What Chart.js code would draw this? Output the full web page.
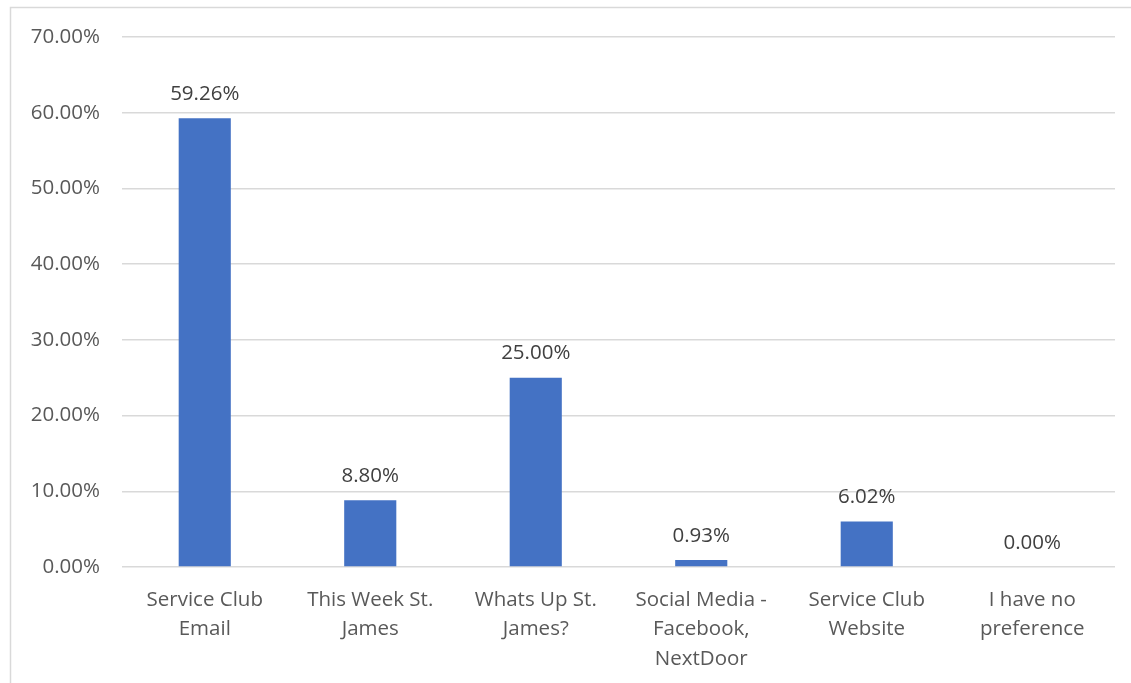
<!DOCTYPE html>
<html>
<head>
<meta charset="utf-8">
<style>
  html, body { margin: 0; padding: 0; background: #fff; }
  #wrap { width: 1131px; height: 683px; position: relative; }
</style>
<script src="https://cdn.jsdelivr.net/npm/chart.js@4/dist/chart.umd.min.js"></script>
</head>
<body>
<div id="wrap"><canvas id="c" width="1131" height="683"></canvas></div>
<script>
// Preferred channel for Service Club news (share of responses, %)
const categories = [
  ['Service Club', 'Email'],
  ['This Week St.', 'James'],
  ['Whats Up St.', 'James?'],
  ['Social Media -', 'Facebook,', 'NextDoor'],
  ['Service Club', 'Website'],
  ['I have no', 'preference']
];
const shares = [59.26, 8.80, 25.00, 0.93, 6.02, 0.00];
const yTicks = [0, 10, 20, 30, 40, 50, 60, 70];

const FONT = '"Open Sans", "Liberation Sans", sans-serif';
const FONT_SIZE = 20.5;

// Frame around the chart
const framePlugin = {
  id: 'frame',
  beforeDraw(chart) {
    const ctx = chart.ctx;
    ctx.save();
    ctx.fillStyle = '#fff';
    ctx.fillRect(0, 0, chart.width, chart.height);
    ctx.strokeStyle = '#D9D9D9';
    ctx.lineWidth = 1.5;
    ctx.strokeRect(10.5, 7.5, chart.width + 20, chart.height + 20);
    ctx.restore();
  }
};

// Percentage labels above each bar
const valueLabels = {
  id: 'valueLabels',
  afterDatasetsDraw(chart) {
    const ctx = chart.ctx;
    const meta = chart.getDatasetMeta(0);
    ctx.save();
    ctx.font = FONT_SIZE + 'px ' + FONT;
    ctx.fillStyle = '#404040';
    ctx.textAlign = 'center';
    ctx.textBaseline = 'bottom';
    meta.data.forEach((bar, i) => {
      ctx.fillText(shares[i].toFixed(2) + '%', bar.x, bar.y - 14);
    });
    ctx.restore();
  }
};

new Chart(document.getElementById('c'), {
  type: 'bar',
  data: {
    labels: categories,
    datasets: [{
      data: shares,
      backgroundColor: '#4472C4',
      borderWidth: 0,
      categoryPercentage: 1.0,
      barPercentage: 0.315
    }]
  },
  options: {
    responsive: false,
    animation: false,
    layout: { padding: { left: 10, right: 16, top: 37, bottom: 0 } },
    plugins: { legend: { display: false }, tooltip: { enabled: false } },
    scales: {
      x: {
        grid: { display: false, drawTicks: false },
        border: { display: false },
        ticks: {
          color: '#595959',
          font: { family: FONT, size: FONT_SIZE, lineHeight: 1.45 },
          padding: 18,
          maxRotation: 0,
          autoSkip: false
        },
        afterFit(scale) { scale.height = 116; }
      },
      y: {
        min: 0,
        max: 70,
        afterBuildTicks(scale) { scale.ticks = yTicks.map(v => ({ value: v })); },
        grid: { color: '#D9D9D9', lineWidth: 1.5, drawTicks: false },
        border: { display: false },
        ticks: {
          color: '#595959',
          font: { family: FONT, size: FONT_SIZE },
          padding: 22,
          callback: v => v.toFixed(2) + '%'
        },
        afterFit(scale) { scale.width = 112; }
      }
    }
  },
  plugins: [framePlugin, valueLabels]
});
</script>
</body>
</html>
